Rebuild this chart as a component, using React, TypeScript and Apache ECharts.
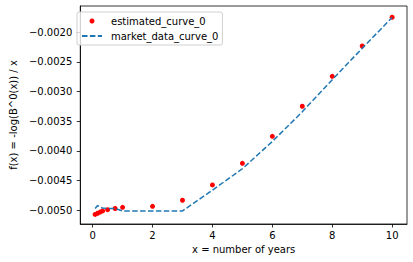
import React, { useEffect, useRef } from "react";
import * as echarts from "echarts";

const tenors = [0.083, 0.167, 0.25, 0.333, 0.5, 0.75, 1, 2, 3, 4, 5, 6, 7, 8, 9, 10];
const estimatedValues = [
  -0.00507, -0.00505, -0.00503, -0.00501, -0.00499, -0.00497, -0.00495, -0.004933,
  -0.004831, -0.004573, -0.004208, -0.003753, -0.003247, -0.002742, -0.002231, -0.001747,
];
const marketValues = [
  -0.00497, -0.00492, -0.00495, -0.00496, -0.00497, -0.00497, -0.00501, -0.00501,
  -0.00501, -0.00466, -0.0043, -0.00384, -0.00334, -0.0028, -0.00227, -0.00175,
];
const xTicks = [0, 2, 4, 6, 8, 10];
const yTicks = [-0.005, -0.0045, -0.004, -0.0035, -0.003, -0.0025, -0.002];

const FONT = "DejaVu Sans";

export default function App() {
  const ref = useRef<HTMLDivElement>(null);
  useEffect(() => {
    if (!ref.current) return;
    const chart = echarts.init(ref.current, null, { renderer: "svg" });
    chart.setOption({
      animation: false,
      backgroundColor: "#fff",
      grid: {
        left: 72,
        right: 6,
        top: 6,
        bottom: 38,
        show: true,
        borderColor: "#000",
        borderWidth: 0.8,
        containLabel: false,
      },
      legend: {
        orient: "vertical",
        left: 77,
        top: 12,
        padding: [3, 4, 3, 4],
        itemGap: 3,
        itemWidth: 20,
        itemHeight: 5,
        borderColor: "#d0d0d0",
        borderWidth: 1,
        borderRadius: 2,
        backgroundColor: "rgba(255,255,255,0.8)",
        textStyle: { fontFamily: FONT, fontSize: 10, color: "#000", padding: [0, 0, 0, 4], lineHeight: 12 },
        data: [
          { name: "estimated_curve_0", icon: "circle", itemStyle: { color: "#ff0000", opacity: 1 } },
          { name: "market_data_curve_0", itemStyle: { color: "rgba(0,0,0,0)", borderWidth: 0 } },
        ],
      },
      xAxis: {
        type: "value",
        min: -0.413,
        max: 10.496,
        name: "x = number of years",
        nameLocation: "middle",
        nameGap: 20,
        nameTextStyle: { fontFamily: FONT, fontSize: 10, color: "#000" },
        axisLine: { show: true, onZero: false, lineStyle: { color: "#000", width: 0.8 } },
        axisTick: { show: true, inside: false, length: 3.5, lineStyle: { color: "#000", width: 0.8 }, customValues: xTicks },
        axisLabel: { fontFamily: FONT, fontSize: 10, color: "#000", margin: 6, customValues: xTicks, formatter: (v: number) => String(v) },
        splitLine: { show: false },
      },
      yAxis: {
        type: "value",
        min: -0.005231,
        max: -0.001557,
        name: "f(x) = -log(B^0(x)) / x",
        nameLocation: "middle",
        nameGap: 56,
        nameTextStyle: { fontFamily: FONT, fontSize: 10, color: "#000" },
        axisLine: { show: true, onZero: false, lineStyle: { color: "#000", width: 0.8 } },
        axisTick: { show: true, inside: false, length: 3.5, lineStyle: { color: "#000", width: 0.8 }, customValues: yTicks },
        axisLabel: {
          fontFamily: FONT,
          fontSize: 10,
          color: "#000",
          margin: 8,
          customValues: yTicks,
          formatter: (v: number) => (v < 0 ? "\u2212" : "") + Math.abs(v).toFixed(4),
        },
        splitLine: { show: false },
      },
      series: [
        {
          name: "estimated_curve_0",
          type: "scatter",
          symbol: "circle",
          symbolSize: 5,
          itemStyle: { color: "#ff0000", opacity: 1 },
          data: tenors.map((t, i) => [t, estimatedValues[i]]),
          z: 2,
        },
        {
          name: "market_data_curve_0",
          type: "line",
          showSymbol: false,
          symbol: "none",
          lineStyle: { color: "#1f77b4", width: 1.5, type: [5.5, 2.4] },
          itemStyle: { color: "#1f77b4" },
          data: tenors.map((t, i) => [t, marketValues[i]]),
          z: 3,
        },
      ],
    });
    return () => chart.dispose();
  }, []);
  return (
    <div
      ref={ref}
      style={{ position: "fixed", left: 0, top: 0, width: 413, height: 262, background: "#fff" }}
    />
  );
}
